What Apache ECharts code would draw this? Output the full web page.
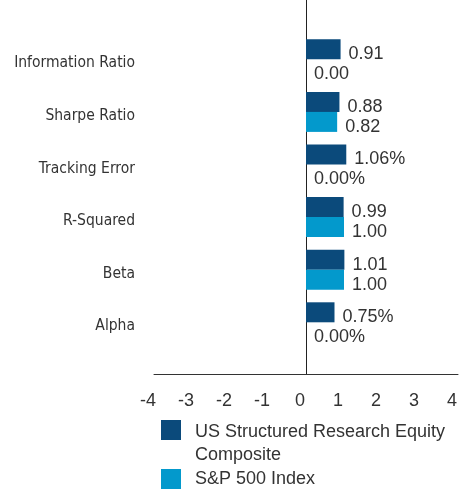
<!DOCTYPE html>
<html>
<head>
<meta charset="utf-8">
<script src="https://cdn.jsdelivr.net/npm/echarts@6/dist/echarts.min.js"></script>
<style>
  html, body { margin: 0; padding: 0; background: #fff; }
  #chart { width: 472px; height: 492px; }
</style>
</head>
<body>
<div id="chart"></div>
<script>
var categories = ['Information Ratio', 'Sharpe Ratio', 'Tracking Error', 'R-Squared', 'Beta', 'Alpha'];
var units = ['', '', '%', '', '', '%'];
var compositeValues = [0.91, 0.88, 1.06, 0.99, 1.01, 0.75];
var indexValues = [0.00, 0.82, 0.00, 1.00, 1.00, 0.00];
var xTicks = [-4, -3, -2, -1, 0, 1, 2, 3, 4];
var compositeName = 'US Structured Research Equity Composite';
var indexName = 'S&P 500 Index';

var textFont = '"Liberation Sans", Arimo, Arial, sans-serif';
var narrowFont = '"DejaVu Sans Condensed", "Liberation Sans", sans-serif';

var chart = echarts.init(document.getElementById('chart'));

function valueLabel(p) {
    return p.value.toFixed(2) + units[p.dataIndex];
}

// square icon sitting at the top of a taller box, so the two-line text lines up under it
var tallSquare = 'path://M0 0 L20 0 L20 20 L0 20 Z M0 47 L0 47';

var option = {
    animation: false,
    legend: [
        {
            data: [compositeName],
            orient: 'vertical',
            left: 161,
            top: 420,
            padding: 0,
            itemWidth: 20,
            itemHeight: 47,
            icon: tallSquare,
            formatter: function () {
                return 'US Structured Research Equity\nComposite';
            },
            textStyle: {
                fontFamily: textFont,
                fontSize: 18,
                color: '#333',
                lineHeight: 23,
                padding: [0, 0, 0, 9]
            }
        },
        {
            data: [indexName],
            orient: 'vertical',
            left: 161,
            top: 467.5,
            padding: 0,
            itemWidth: 20,
            itemHeight: 20,
            icon: 'rect',
            textStyle: {
                fontFamily: textFont,
                fontSize: 18,
                color: '#333',
                lineHeight: 23,
                padding: [0, 0, 0, 9]
            }
        }
    ],
    grid: [
        {left: 154, right: 14, top: 0, bottom: 118},
        {left: 154, right: 14, top: 33, bottom: 143.4}
    ],
    xAxis: [
        {
            type: 'value',
            gridIndex: 0,
            min: xTicks[0],
            max: xTicks[xTicks.length - 1],
            interval: 1,
            axisLine: {show: true, onZero: false, lineStyle: {color: '#333', width: 1}},
            axisTick: {show: false},
            splitLine: {show: false},
            axisLabel: {
                margin: 18,
                fontFamily: textFont,
                fontSize: 18,
                color: '#333',
                padding: [0, 12, 0, 0]
            }
        },
        {
            type: 'value',
            gridIndex: 1,
            min: xTicks[0],
            max: xTicks[xTicks.length - 1],
            show: false
        }
    ],
    yAxis: [
        {
            type: 'value',
            gridIndex: 0,
            min: 0,
            max: 1,
            axisLine: {show: true, onZero: true, lineStyle: {color: '#222', width: 1}},
            axisTick: {show: false},
            axisLabel: {show: false},
            splitLine: {show: false}
        },
        {
            type: 'category',
            gridIndex: 1,
            inverse: true,
            data: categories,
            axisLine: {show: false},
            axisTick: {show: false},
            axisLabel: {
                margin: 19,
                fontFamily: narrowFont,
                fontSize: 15.5,
                color: '#333',
                verticalAlign: 'top',
                lineHeight: 8
            }
        }
    ],
    series: [
        {
            name: compositeName,
            type: 'bar',
            xAxisIndex: 1,
            yAxisIndex: 1,
            data: compositeValues,
            barWidth: 20,
            barGap: '0%',
            itemStyle: {color: '#0b4a7b'},
            label: {
                show: true,
                position: 'right',
                distance: 8,
                offset: [0, 5],
                formatter: valueLabel,
                fontFamily: textFont,
                fontSize: 18,
                color: '#333'
            }
        },
        {
            name: indexName,
            type: 'bar',
            xAxisIndex: 1,
            yAxisIndex: 1,
            data: indexValues,
            barWidth: 20,
            barGap: '0%',
            itemStyle: {color: '#0399cc'},
            label: {
                show: true,
                position: 'right',
                distance: 8,
                offset: [0, 5],
                formatter: valueLabel,
                fontFamily: textFont,
                fontSize: 18,
                color: '#333'
            }
        }
    ]
};

chart.setOption(option);
</script>
</body>
</html>
